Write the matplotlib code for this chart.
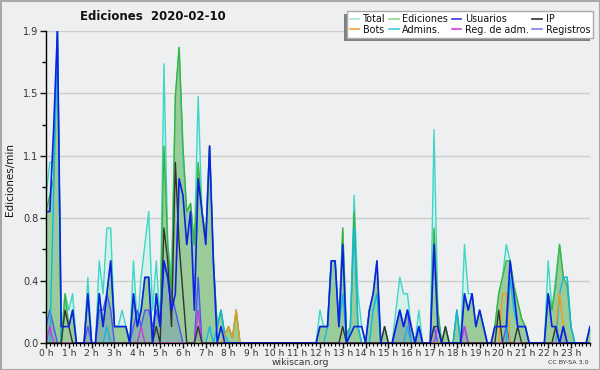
import numpy as np
import matplotlib
matplotlib.use("Agg")
import matplotlib.pyplot as plt
from matplotlib.lines import Line2D
from matplotlib.patches import Rectangle
from matplotlib.transforms import IdentityTransform

# ---- data: edits per minute, 10-minute bins (144 per day) ----
hours = [f"{h} h" for h in range(24)]

total = [0.9, 1.1, 1.1, 1.9, 0.0, 0.3,  0.2, 0.3, 0.0, 0.0, 0.0, 0.4,
         0.0, 0.0, 0.5, 0.3, 0.7, 0.7,  0.1, 0.1, 0.2, 0.1, 0.0, 0.5,
         0.1, 0.4, 0.6, 0.8, 0.2, 0.5,  0.1, 1.7, 0.6, 0.4, 1.5, 1.8,
         1.1, 0.8, 0.85, 0.6, 1.5, 0.8, 0.65, 1.2, 0.5, 0.1, 0.2, 0.05,
         0.1, 0.03, 0.2, 0.0, 0.0, 0.0, 0, 0, 0, 0, 0, 0,
         0, 0, 0, 0, 0, 0,  0, 0, 0, 0, 0, 0,
         0.2, 0.1, 0.1, 0.5, 0.5, 0.1,  0.7, 0.05, 0.1, 0.9, 0.3, 0.1,
         0.0, 0.2, 0.2, 0.3, 0.0, 0.1,  0.0, 0.0, 0.2, 0.4, 0.3, 0.3,
         0.1, 0.0, 0.2, 0.0, 0.0, 0.0,  1.3, 0.2, 0.0, 0.1, 0.0, 0.0,
         0.2, 0.0, 0.6, 0.3, 0.3, 0.1,  0.2, 0.1, 0.0, 0.0, 0.1, 0.3,
         0.4, 0.6, 0.5, 0.35, 0.25, 0.15, 0.1, 0.0, 0.0, 0.0, 0.0, 0.0,
         0.5, 0.2, 0.4, 0.6, 0.4, 0.4,  0.1, 0.0, 0.0, 0.0, 0.0, 0.1]

ediciones = [0.8, 0.9, 1.0, 1.9, 0.0, 0.3,  0.1, 0.2, 0.0, 0.0, 0.0, 0.3,
             0.0, 0.0, 0.3, 0.1, 0.3, 0.5,  0.1, 0.1, 0.1, 0.1, 0.0, 0.3,
             0.1, 0.2, 0.4, 0.4, 0.0, 0.3,  0.1, 1.2, 0.6, 0.3, 1.5, 1.8,
             1.2, 0.8, 0.85, 0.6, 1.1, 0.8, 0.65, 1.2, 0.5, 0.1, 0.2, 0.05,
             0.1, 0.03, 0.2, 0.0, 0.0, 0.0, 0, 0, 0, 0, 0, 0,
             0, 0, 0, 0, 0, 0,  0, 0, 0, 0, 0, 0,
             0.1, 0.1, 0.1, 0.5, 0.5, 0.1,  0.7, 0.05, 0.1, 0.8, 0.1, 0.0,
             0.0, 0.2, 0.3, 0.5, 0.0, 0.1,  0.0, 0.0, 0.1, 0.2, 0.1, 0.2,
             0.1, 0.0, 0.1, 0.0, 0.0, 0.0,  0.7, 0.2, 0.0, 0.1, 0.0, 0.0,
             0.2, 0.0, 0.3, 0.2, 0.3, 0.1,  0.2, 0.1, 0.0, 0.0, 0.1, 0.3,
             0.4, 0.5, 0.5, 0.35, 0.25, 0.15, 0.1, 0.0, 0.0, 0.0, 0.0, 0.0,
             0.3, 0.2, 0.35, 0.6, 0.4, 0.35, 0.1, 0.0, 0.0, 0.0, 0.0, 0.1]

usuarios = [0.8, 0.8, 1.3, 1.9, 0.1, 0.1,  0.1, 0.2, 0.0, 0.0, 0.0, 0.3,
            0.0, 0.0, 0.3, 0.1, 0.3, 0.5,  0.1, 0.1, 0.1, 0.1, 0.0, 0.3,
            0.1, 0.2, 0.4, 0.4, 0.0, 0.3,  0.1, 0.5, 0.4, 0.2, 0.3, 1.0,
            0.9, 0.6, 0.8, 0.2, 1.0, 0.8,  0.6, 1.2, 0.5, 0.0, 0.1, 0.0,
            0, 0, 0, 0, 0, 0,  0, 0, 0, 0, 0, 0,
            0, 0, 0, 0, 0, 0,  0, 0, 0, 0, 0, 0,
            0.1, 0.1, 0.1, 0.5, 0.5, 0.1,  0.6, 0.0, 0.05, 0.1, 0.1, 0.1,
            0.0, 0.2, 0.3, 0.5, 0.0, 0.0,  0.0, 0.0, 0.1, 0.2, 0.1, 0.2,
            0.1, 0.0, 0.1, 0.0, 0.0, 0.0,  0.6, 0.1, 0.0, 0.0, 0.0, 0.0,
            0.0, 0.0, 0.3, 0.2, 0.3, 0.1,  0.2, 0.1, 0.0, 0.0, 0.1, 0.1,
            0.1, 0.1, 0.5, 0.3, 0.1, 0.1,  0.1, 0.0, 0.0, 0.0, 0.0, 0.0,
            0.3, 0.1, 0.1, 0.0, 0.1, 0.0,  0.0, 0.0, 0.0, 0.0, 0.0, 0.1]

ip = [0.0, 0.0, 0.0, 0.0, 0.0, 0.2,  0.1, 0.0, 0.0, 0.0, 0.0, 0.0,
      0, 0, 0, 0, 0, 0,  0, 0, 0, 0, 0, 0,
      0, 0, 0, 0, 0, 0.1,  0.0, 0.7, 0.5, 0.1, 1.1, 0.6,
      0.3, 0.0, 0.0, 0.0, 0.1, 0.0,  0, 0, 0, 0, 0, 0,
      0, 0, 0, 0, 0, 0,  0, 0, 0, 0, 0, 0,
      0, 0, 0, 0, 0, 0,  0, 0, 0, 0, 0, 0,
      0, 0, 0, 0, 0, 0,  0.1, 0, 0, 0, 0, 0,
      0, 0, 0, 0, 0, 0.1,  0, 0, 0, 0, 0, 0,
      0, 0, 0, 0, 0, 0,  0.1, 0.1, 0.0, 0.1, 0, 0,
      0, 0, 0, 0, 0, 0,  0, 0, 0, 0, 0, 0.2,
      0, 0, 0, 0, 0.1, 0,  0, 0, 0, 0, 0, 0,
      0, 0, 0.1, 0, 0, 0,  0, 0, 0, 0, 0, 0]

bots = [0.0] * 47 + [0.05, 0.1, 0.03, 0.2] + [0.0] * 69 + [0.3, 0.3] + \
       [0.0] * 12 + [0.1, 0.3, 0.1] + [0.0] * 7

admins = [0.0, 0.0, 0.9, 1.9, 0.0, 0.0,  0, 0, 0, 0, 0, 0,
          0, 0, 0, 0, 0.1, 0,  0, 0, 0, 0, 0, 0,
          0, 0, 0, 0, 0, 0,  0, 0, 0, 0, 0, 0,
          0, 0, 0, 0, 0, 0,  0, 0.1, 0, 0.1, 0.2, 0.05,
          0, 0, 0, 0, 0, 0,  0, 0, 0, 0, 0, 0,
          0, 0, 0, 0, 0, 0,  0, 0, 0, 0, 0, 0,
          0, 0, 0.1, 0.5, 0.5, 0.1,  0.3, 0.0, 0.1, 0.7, 0.1, 0.0,
          0, 0, 0.2, 0.3, 0, 0,  0, 0, 0, 0, 0, 0.1,
          0, 0, 0.1, 0, 0, 0,  0, 0, 0, 0, 0, 0,
          0.2, 0, 0, 0, 0, 0,  0, 0, 0, 0, 0, 0,
          0, 0, 0.4, 0.2, 0.1, 0.1,  0.1, 0, 0, 0, 0, 0,
          0, 0, 0, 0.3, 0.4, 0.4,  0.1, 0, 0, 0, 0, 0]

reg_adm = [0.0] * 144
for i, v in [(1, 0.1), (25, 0.1), (40, 0.2), (103, 0.1), (110, 0.1)]:
    reg_adm[i] = v

registros = [0.1, 0.2, 0.1, 0.0, 0.0, 0.0,  0, 0, 0, 0, 0, 0.1,
             0, 0, 0.2, 0.2, 0.3, 0.2,  0, 0, 0, 0, 0, 0.1,
             0.2, 0.1, 0.2, 0.2, 0.1, 0.2,  0.1, 0.5, 0.4, 0.3, 0.2, 0.1,
             0, 0, 0, 0, 0.4, 0,  0, 0, 0, 0, 0, 0,
             0, 0, 0, 0, 0, 0,  0, 0, 0, 0, 0, 0,
             0, 0, 0, 0, 0, 0,  0, 0, 0, 0, 0, 0,
             0, 0, 0, 0, 0, 0,  0, 0, 0, 0, 0, 0,
             0, 0, 0, 0, 0, 0,  0, 0, 0.1, 0.2, 0.1, 0.2,
             0, 0, 0.1, 0, 0, 0,  0.1, 0, 0, 0, 0, 0,
             0, 0, 0.1, 0, 0, 0,  0, 0, 0, 0, 0, 0,
             0, 0.1, 0, 0, 0, 0,  0, 0, 0, 0, 0, 0,
             0, 0, 0, 0, 0.1, 0,  0, 0, 0, 0, 0, 0]

labels = ["Total", "Ediciones", "Usuarios", "IP",
          "Bots", "Admins.", "Reg. de adm.", "Registros"]
legend_colors = ["#a8e8e0", "#90d890", "#3838e0", "#303030",
                 "#f0a040", "#40c8e0", "#d040e0", "#8080f0"]

# ---- figure ----
BG = "#eeeff0"
fig = plt.figure(figsize=(6.0, 3.7), dpi=100, facecolor=BG)
ax = fig.add_axes([46 / 600, 27 / 370, 544 / 600, 312 / 370])
ax.set_facecolor("none")

x = np.arange(len(total))

ax.fill_between(x, 0, total, color="#d6f1eb", lw=0, zorder=1)
ax.fill_between(x, 0, ediciones, color="#99cc99", lw=0, zorder=2)
ax.fill_between(x, 0, registros, color="#5a70d8", alpha=0.25, lw=0, zorder=3)

ax.plot(x, total, color="#3ed6c6", lw=1.0, zorder=4)
ax.plot(x, ediciones, color="#3cb43c", lw=1.0, zorder=5)
ax.plot(x, registros, color="#4a58f0", lw=1.0, zorder=6)
ax.plot(x, admins, color="#12b6e2", lw=1.0, zorder=6)
ax.plot(x, bots, color="#f09a20", lw=1.0, zorder=7)
ax.plot(x, reg_adm, color="#c43ae0", lw=1.0, zorder=7)
ax.plot(x, ip, color="#333333", lw=1.0, zorder=8)
ax.plot(x, usuarios, color="#0b22e6", lw=1.2, zorder=9)

ax.set_xlim(0, 143)
ax.set_ylim(0, 1.9)

yt = [0.0, 0.38, 0.76, 1.14, 1.52, 1.9]
ax.set_yticks(yt)
ax.set_yticklabels([f"{v:.1f}" for v in yt])
ax.set_yticks([0.19, 0.57, 0.95, 1.33, 1.71], minor=True)
ax.set_xticks(np.arange(0, 144, 6))
ax.set_xticklabels(hours)
ax.set_xticks(np.arange(0, 144, 1), minor=True)

ax.tick_params(axis="y", which="major", direction="out", length=4,
               width=1, labelsize=7, colors="#111111", pad=1.5)
ax.tick_params(axis="x", which="major", direction="out", length=3.5,
               width=1, labelsize=6.6, colors="#111111", pad=0.5)
ax.tick_params(axis="y", which="minor", direction="out", length=3, width=1)
ax.tick_params(axis="x", which="minor", direction="out", length=2.5, width=0.8)
for lab in ax.get_xticklabels() + ax.get_yticklabels():
    lab.set_color("#333333")

ax.grid(axis="y", which="major", color="#cccccc", lw=1.0, zorder=0)
ax.set_axisbelow(True)
for s in ["top", "right"]:
    ax.spines[s].set_visible(False)
for s in ["left", "bottom"]:
    ax.spines[s].set_color("black")
    ax.spines[s].set_linewidth(1.0)
    ax.spines[s].set_zorder(10)

# texts
fig.text(153 / 600, 1 - 17 / 370, "Ediciones  2020-02-10", ha="center",
         va="center", fontsize=8.5, fontweight="bold", color="#111111")
fig.text(10 / 600, 1 - 180 / 370, "Ediciones/min", rotation=90, ha="center",
         va="center", fontsize=7.5, color="#111111")
fig.text(300 / 600, 1 - 362.5 / 370, "wikiscan.org", ha="center", va="center",
         fontsize=6.6, color="#333333")
fig.text(589 / 600, 1 - 363 / 370, "CC BY-SA 3.0", ha="right", va="center",
         fontsize=4.6, color="#333333")

# legend (column-major order for 2 rows x 4 columns)
order = [0, 4, 1, 5, 2, 6, 3, 7]
handles = [Line2D([], [], color=legend_colors[i], lw=1.2) for i in order]
leg = fig.legend(handles, [labels[i] for i in order], ncol=4,
                 loc="upper right", bbox_to_anchor=(593 / 600, 1 - 11 / 370),
                 bbox_transform=fig.transFigure, fontsize=6.9, frameon=True,
                 fancybox=False, framealpha=1, edgecolor="#aaaaaa",
                 handlelength=1.0, handletextpad=0.4, columnspacing=0.35,
                 labelspacing=0.1, borderpad=0.3, borderaxespad=0)
leg.get_frame().set_linewidth(1.0)
for t in leg.get_texts():
    t.set_color("#111111")

fig.canvas.draw()
bb = leg.get_window_extent()
shadow = Rectangle((bb.x0 - 3, bb.y0 - 3), bb.width, bb.height,
                   transform=IdentityTransform(), facecolor="#808080",
                   edgecolor="none", zorder=4)
fig.add_artist(shadow)

# figure border
fig.add_artist(Rectangle((0.5 / 600, 0.5 / 370), 599 / 600, 369 / 370,
                         transform=fig.transFigure, fill=False,
                         edgecolor="#a8a8a8", lw=1.5, zorder=20))

fig.savefig("out.png", dpi=100, facecolor=BG)
